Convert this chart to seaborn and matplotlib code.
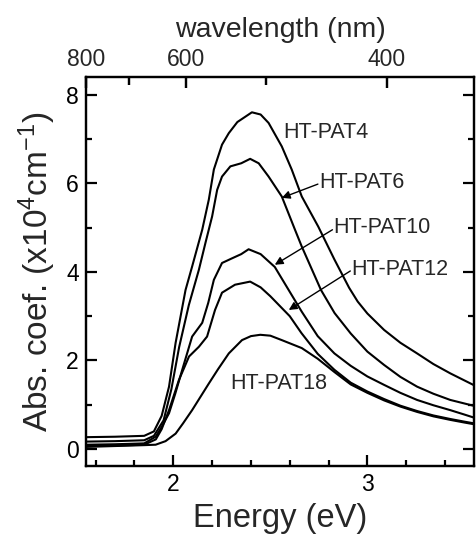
import numpy as np
import pandas as pd
import matplotlib
matplotlib.use("Agg")
import matplotlib.pyplot as plt
import matplotlib.lines as mlines
import matplotlib.transforms as mtransforms
from matplotlib.ticker import MultipleLocator, FixedLocator, NullLocator
import seaborn as sns

# ---- data ----
e_pat4 = [1.55, 1.70, 1.85, 1.90, 1.94, 1.978, 2.012, 2.063, 2.097, 2.149, 2.183, 2.209, 2.251, 2.286, 2.33,
          2.405, 2.45, 2.491, 2.559, 2.610, 2.662, 2.747, 2.83, 2.906, 2.95, 3.0, 3.086, 3.17, 3.256, 3.34, 3.427, 3.50, 3.564]
a_pat4 = [0.27, 0.28, 0.30, 0.40, 0.75, 1.41, 2.40, 3.59, 4.12, 4.95, 5.63, 6.31, 6.87, 7.13, 7.38,
          7.60, 7.55, 7.36, 6.83, 6.31, 5.70, 5.02, 4.28, 3.64, 3.33, 3.06, 2.69, 2.40, 2.16, 1.92, 1.71, 1.55, 1.41]

e_pat6 = [1.55, 1.70, 1.85, 1.90, 1.95, 1.99, 2.03, 2.08, 2.132, 2.166, 2.2, 2.226, 2.251, 2.294, 2.35, 2.396,
          2.44, 2.491, 2.559, 2.627, 2.662, 2.761, 2.831, 2.914, 3.0, 3.086, 3.17, 3.256, 3.34, 3.427, 3.50, 3.564]
a_pat6 = [0.17, 0.18, 0.20, 0.30, 0.65, 1.35, 2.30, 3.25, 4.05, 4.66, 5.25, 5.85, 6.15, 6.38, 6.45, 6.55,
          6.45, 6.15, 5.70, 4.95, 4.57, 3.59, 3.07, 2.61, 2.20, 1.90, 1.63, 1.41, 1.25, 1.11, 1.03, 0.96]

e_pat10 = [1.55, 1.70, 1.85, 1.909, 1.94, 1.978, 2.01, 2.046, 2.097, 2.149, 2.18, 2.209, 2.251, 2.30, 2.35, 2.388,
           2.45, 2.523, 2.60, 2.662, 2.744, 2.83, 2.914, 3.0, 3.086, 3.17, 3.256, 3.34, 3.427, 3.50, 3.564]
a_pat10 = [0.10, 0.11, 0.13, 0.28, 0.50, 0.81, 1.25, 1.79, 2.54, 2.85, 3.30, 3.82, 4.20, 4.30, 4.40, 4.51,
           4.40, 4.11, 3.55, 3.10, 2.55, 2.16, 1.88, 1.64, 1.45, 1.27, 1.11, 0.99, 0.88, 0.78, 0.69]

e_pat12 = [1.55, 1.70, 1.85, 1.91, 1.94, 1.978, 2.029, 2.081, 2.132, 2.174, 2.215, 2.251, 2.318, 2.396, 2.45,
           2.50, 2.60, 2.66, 2.744, 2.83, 2.914, 3.0, 3.086, 3.17, 3.256, 3.34, 3.427, 3.50, 3.564]
a_pat12 = [0.07, 0.08, 0.10, 0.22, 0.45, 0.88, 1.56, 2.09, 2.31, 2.54, 3.14, 3.53, 3.71, 3.78, 3.65,
           3.45, 3.00, 2.62, 2.15, 1.79, 1.50, 1.30, 1.13, 0.98, 0.86, 0.76, 0.68, 0.62, 0.57]

e_pat18 = [1.55, 1.70, 1.85, 1.909, 1.96, 2.012, 2.05, 2.097, 2.14, 2.183, 2.23, 2.286, 2.354, 2.40, 2.448,
           2.50, 2.559, 2.662, 2.744, 2.83, 2.914, 3.0, 3.086, 3.17, 3.256, 3.34, 3.427, 3.50, 3.564]
a_pat18 = [0.05, 0.07, 0.09, 0.10, 0.18, 0.35, 0.58, 0.88, 1.18, 1.48, 1.80, 2.16, 2.46, 2.55, 2.58,
           2.56, 2.46, 2.28, 2.04, 1.74, 1.46, 1.27, 1.10, 0.96, 0.84, 0.74, 0.66, 0.60, 0.55]

samples = ["HT-PAT4", "HT-PAT6", "HT-PAT10", "HT-PAT12", "HT-PAT18"]
energies = [e_pat4, e_pat6, e_pat10, e_pat12, e_pat18]
absorb = [a_pat4, a_pat6, a_pat10, a_pat12, a_pat18]

y_ticks = [0, 2, 4, 6, 8]
x_ticks = [2, 3]
wl_ticks = [800, 600, 400]
wl_minor = [700, 500]

frames = []
for name, e, a in zip(samples, energies, absorb):
    frames.append(pd.DataFrame({"energy": e, "abs": a, "sample": name}))
df = pd.concat(frames, ignore_index=True)

# ---- style ----
sns.set_style("ticks")
plt.rcParams["font.family"] = ["Liberation Sans", "DejaVu Sans"]
plt.rcParams["mathtext.fontset"] = "custom"
plt.rcParams["mathtext.rm"] = "Liberation Sans"
plt.rcParams["mathtext.it"] = "Liberation Sans"
plt.rcParams["mathtext.default"] = "rm"

fig = plt.figure(figsize=(4.77, 5.45), dpi=100)
pos = [0.180, 0.145, 0.814, 0.714]
ax = fig.add_axes(pos)

sns.lineplot(data=df, x="energy", y="abs", hue="sample", units="sample", estimator=None, sort=False,
             palette=["black"] * 5, legend=False, linewidth=1.5, ax=ax)

xlim = (1.5495, 3.55)
ylim = (-0.38, 8.4)
ax.set_xlim(*xlim)
ax.set_ylim(*ylim)
ax.set_xticks(x_ticks)
ax.xaxis.set_minor_locator(MultipleLocator(0.2))
ax.set_yticks(y_ticks)
ax.yaxis.set_minor_locator(MultipleLocator(1))

for s in ax.spines.values():
    s.set_linewidth(1.6)
    s.set_color("black")

ax.tick_params(which="both", direction="in", right=True, top=False, width=1.6, colors="black",
               labelsize=16.5, pad=5)
ax.tick_params(which="major", length=8)
ax.tick_params(which="minor", length=4)

ax.set_xlabel("Energy (eV)", fontsize=23.5, labelpad=5)
ax.set_ylabel("Abs. coef. (x10$^{4}$cm$^{-1}$)", fontsize=24, labelpad=6)

# top wavelength axis (E = 1240 / lambda), as an overlaid plain axes for the labels
top = fig.add_axes(pos, facecolor="none")
top.patch.set_visible(False)
top.set_xlim(*xlim)
top.set_ylim(*ylim)
top.yaxis.set_major_locator(NullLocator())
top.yaxis.set_minor_locator(NullLocator())
top.xaxis.tick_top()
top.xaxis.set_label_position("top")
top.xaxis.set_major_locator(FixedLocator([1240.0 / w for w in wl_ticks]))
top.xaxis.set_minor_locator(FixedLocator([1240.0 / w for w in wl_minor]))
top.set_xticklabels([str(w) for w in wl_ticks])
top.tick_params(axis="x", which="both", direction="in", top=True, bottom=False,
                labeltop=True, labelbottom=False, width=1.6, labelsize=16.5, pad=4, color="black")
top.tick_params(axis="x", which="major", length=8)
top.tick_params(axis="x", which="minor", length=6)
for s in top.spines.values():
    s.set_linewidth(1.6)
    s.set_color("black")
top.set_xlabel("wavelength (nm)", fontsize=20.5, labelpad=8)

# explicit inward tick marks along the top edge at the wavelength positions
trans = mtransforms.blended_transform_factory(ax.transData, ax.transAxes)
ax.plot([1240.0 / w for w in wl_ticks], [1.0] * len(wl_ticks), transform=trans, ls="none",
        marker=mlines.TICKDOWN, markersize=8, markeredgewidth=1.6, color="black", clip_on=False)
ax.plot([1240.0 / w for w in wl_minor], [1.0] * len(wl_minor), transform=trans, ls="none",
        marker=mlines.TICKDOWN, markersize=6, markeredgewidth=1.6, color="black", clip_on=False)

# ---- annotations ----
fs = 15.5
ax.text(2.569, 7.14, "HT-PAT4", fontsize=fs, va="center", ha="left")
ax.text(2.754, 6.01, "HT-PAT6", fontsize=fs, va="center", ha="left")
ax.text(2.826, 4.99, "HT-PAT10", fontsize=fs, va="center", ha="left")
ax.text(2.918, 4.05, "HT-PAT12", fontsize=fs, va="center", ha="left")
ax.text(2.292, 1.49, "HT-PAT18", fontsize=fs, va="center", ha="left")

arrow = dict(arrowstyle="-|>", color="black", lw=1.0, mutation_scale=12, shrinkA=0, shrinkB=0)
ax.annotate("", xy=(2.559, 5.67), xytext=(2.745, 5.98), arrowprops=arrow)
ax.annotate("", xy=(2.523, 4.16), xytext=(2.82, 4.95), arrowprops=arrow)
ax.annotate("", xy=(2.595, 3.14), xytext=(2.912, 4.02), arrowprops=arrow)

fig.savefig("out.png", dpi=100)
